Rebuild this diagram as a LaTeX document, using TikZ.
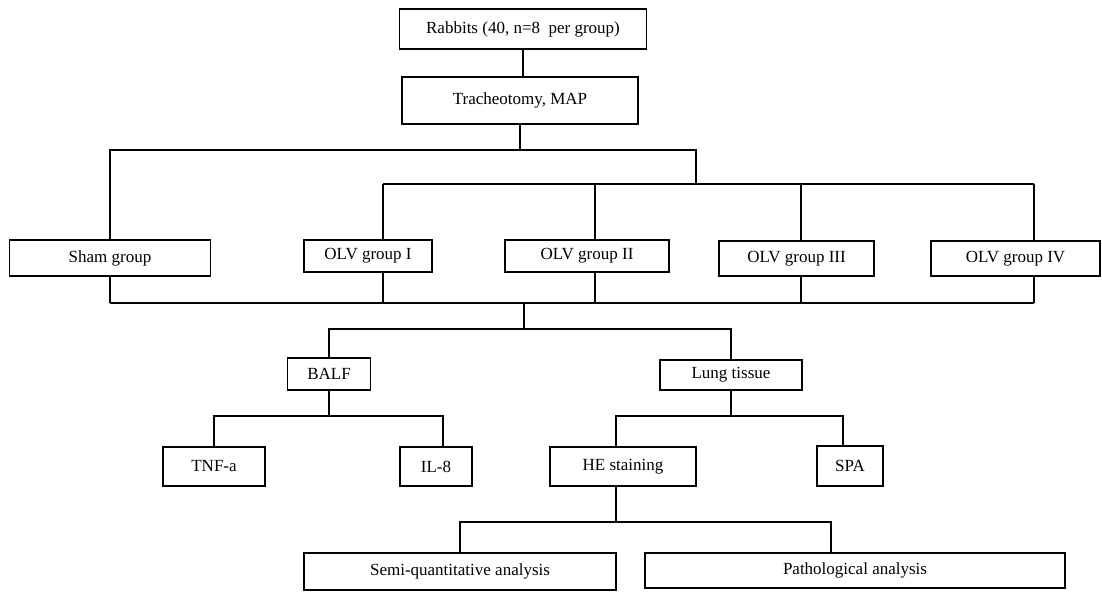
\documentclass[tikz,border=0pt]{standalone}
\usepackage{fontspec}
\setmainfont{Liberation Serif}

\begin{document}
\begin{tikzpicture}[x=1pt,y=-1pt,
        box/.style={draw,line width=1.4pt,inner sep=0pt,font=\fontsize{17}{20}\selectfont},
        link/.style={line width=1.4pt}]
        \useasboundingbox (0,0) rectangle (1102,592);

        \node[box,minimum width=247pt,minimum height=40pt] (rabbits) at (523,29) {Rabbits (40, n=8 \ per group)};
        \node[box,minimum width=236pt,minimum height=47pt] (trach) at (520,100.5) {Tracheotomy, MAP};

        \node[box,minimum width=201pt,minimum height=36pt] (sham) at (110,258) {Sham group};
        \node[box,minimum width=128pt,minimum height=32pt] (olv1) at (368,256) {OLV group I};
        \node[box,minimum width=164pt,minimum height=32pt] (olv2) at (587,256) {OLV group II};
        \node[box,minimum width=155pt,minimum height=35pt] (olv3) at (796.5,258.5) {OLV group III};
        \node[box,minimum width=169pt,minimum height=35pt] (olv4) at (1015.5,258.5) {OLV group IV};

        \node[box,minimum width=83pt,minimum height=32pt] (balf) at (329,374) {BALF};
        \node[box,minimum width=142pt,minimum height=30pt] (lung) at (731,375) {Lung tissue};

        \node[box,minimum width=102pt,minimum height=39pt] (tnf) at (214,466.5) {TNF-a};
        \node[box,minimum width=72pt,minimum height=39pt] (il8) at (436,466.5) {IL-8};
        \node[box,minimum width=146pt,minimum height=39pt] (he) at (623,466.5) {HE staining};
        \node[box,minimum width=66pt,minimum height=40pt] (spa) at (850,466) {SPA};

        \node[box,minimum width=312pt,minimum height=37pt] (semi) at (460,571.5) {Semi-quantitative analysis};
        \node[box,minimum width=420pt,minimum height=35pt] (patho) at (855,570.5) {Pathological analysis};

        % rabbits to groups
        \draw[link] (rabbits.south) -- (rabbits.south |- trach.north);
        \coordinate (split) at (520,150);
        \coordinate (hub) at (696,150);
        \coordinate (hubB) at (696,184);
        \coordinate (d1) at (383,184);
        \coordinate (d2) at (595,184);
        \coordinate (d3) at (801,184);
        \coordinate (d4) at (1034,184);
        \draw[link] (trach.south) -- (split);
        \draw[link] (sham.north) |- (hub) -- (hubB);
        \draw[link] (d1) -- (d4);
        \foreach \d/\g in {d1/olv1,d2/olv2,d3/olv3,d4/olv4}
            \draw[link] (\d) -- (\d |- \g.north);

        % groups to samples
        \coordinate (join) at (524,303);
        \coordinate (joinB) at (524,329);
        \draw[link] (sham.south) -- (sham.south |- join);
        \foreach \d/\g in {d1/olv1,d2/olv2,d3/olv3,d4/olv4}
            \draw[link] (\g.south -| \d) -- (\d |- join);
        \draw[link] (sham.south |- join) -- (d4 |- join);
        \draw[link] (join) -- (joinB);
        \draw[link] (balf.north) |- (joinB) -| (lung.north);

        % BALF
        \coordinate (b1) at (443,416);
        \draw[link] (balf.south) -- (balf.south |- b1);
        \draw[link] (tnf.north) |- (b1) -- (b1 |- il8.north);

        % lung tissue
        \coordinate (l0) at (616,416);
        \coordinate (l1) at (843,416);
        \draw[link] (lung.south) -- (lung.south |- l1);
        \draw[link] (l0 |- he.north) -- (l0) -- (l1) -- (l1 |- spa.north);

        % HE staining
        \coordinate (h1) at (831,522);
        \draw[link] (he.south -| l0) -- (l0 |- h1);
        \draw[link] (semi.north) |- (h1) -- (h1 |- patho.north);
    \end{tikzpicture}
\end{document}
